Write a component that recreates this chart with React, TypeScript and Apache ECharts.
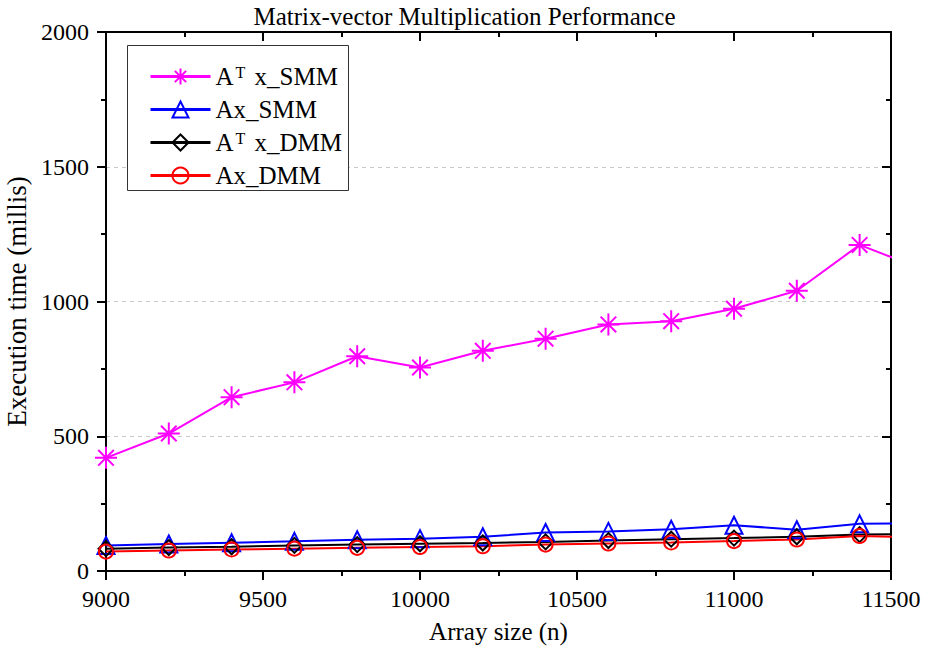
import React, { useEffect, useRef } from "react";
import * as echarts from "echarts";

const sizes = [9000, 9200, 9400, 9600, 9800, 10000, 10200, 10400, 10600, 10800, 11000, 11200, 11400, 11600];
const atxSMM = [420, 510, 645, 700, 797, 755, 817, 862, 915, 927, 973, 1040, 1210, 1120];
const axSMM = [95, 100, 105, 110, 116, 120, 127, 143, 147, 155, 170, 153, 175, 178];
const atxDMM = [83, 87, 90, 95, 98, 101, 104, 108, 113, 118, 122, 127, 135, 137];
const axDMM = [72, 76, 80, 83, 86, 89, 92, 98, 102, 106, 111, 117, 130, 125];
const seriesNames = ["ATx_SMM", "Ax_SMM", "ATx_DMM", "Ax_DMM"];
const legendLabels: Record<string, string> = {
  ATx_SMM: "{b|A}{sup|T}{b| x_SMM}",
  Ax_SMM: "{b|Ax_SMM}",
  ATx_DMM: "{b|A}{sup|T}{b| x_DMM}",
  Ax_DMM: "{b|Ax_DMM}",
};

const FONT = "Liberation Serif";
const STAR = "path://M0,-10L0,10M-10,0L10,0M-7.07,-7.07L7.07,7.07M-7.07,7.07L7.07,-7.07";

export default function App() {
  const ref = useRef<HTMLDivElement>(null);
  useEffect(() => {
    if (!ref.current) return;
    const chart = echarts.init(ref.current, null, { renderer: "svg" });
    const pair = (vals: number[]) => sizes.map((s, i) => [s, vals[i]]);
    const mk = (name: string, vals: number[], color: string, symbol: string, size: number, fill: string) => ({
      name,
      type: "line",
      data: pair(vals),
      symbol,
      symbolSize: size,
      clip: true,
      lineStyle: { color, width: 2 },
      itemStyle: { color: fill, borderColor: color, borderWidth: 2 },
      emphasis: { disabled: true },
    });
    const plain = (v: number) => String(v);
    const baseAxisLine = { show: true, onZero: false, lineStyle: { color: "#000", width: 2 } };
    const option: any = {
      animation: false,
      backgroundColor: "#fff",
      textStyle: { fontFamily: FONT },
      title: {
        text: "Matrix-vector Multiplication Performance",
        left: "center",
        top: 4,
        padding: 0,
        textStyle: { fontFamily: FONT, fontSize: 25, fontWeight: "normal", color: "#000" },
      },
      grid: { left: 106, right: 38, top: 32, bottom: 76, outerBoundsMode: "none", containLabel: false },
      graphic: [
        {
          type: "rect",
          z: 3,
          shape: { x: 127.5, y: 45.5, width: 221, height: 145 },
          style: { fill: "#fff", stroke: "#333", lineWidth: 1 },
        },
      ],
      legend: {
        z: 5,
        left: 149,
        top: 64,
        padding: 0,
        orient: "vertical",
        itemWidth: 60,
        itemHeight: 20,
        itemGap: 8,
        data: seriesNames,
        lineStyle: { width: 3 },
        formatter: (n: string) => legendLabels[n],
        textStyle: {
          fontFamily: FONT,
          fontSize: 25,
          color: "#000",
          lineHeight: 25,
          rich: {
            b: { fontFamily: FONT, fontSize: 25, color: "#000", lineHeight: 25 },
            sup: { fontFamily: FONT, fontSize: 16, color: "#000", lineHeight: 25, verticalAlign: "top", padding: [0, 3, 0, 2] },
          },
        },
      },
      xAxis: [
        {
          type: "value",
          min: 9000,
          max: 11500,
          interval: 500,
          name: "Array size (n)",
          nameLocation: "middle",
          nameGap: 48,
          nameTextStyle: { fontFamily: FONT, fontSize: 25, color: "#000" },
          axisLine: baseAxisLine,
          axisTick: { show: true, length: 9, lineStyle: { color: "#000", width: 2 } },
          minorTick: { show: true, splitNumber: 2, length: 5, lineStyle: { color: "#000", width: 2 } },
          axisLabel: { fontFamily: FONT, fontSize: 24, color: "#000", margin: 16, formatter: plain },
          splitLine: { show: false },
        },
        {
          type: "value",
          position: "top",
          min: 9000,
          max: 11500,
          interval: 500,
          axisLine: baseAxisLine,
          axisTick: { show: true, inside: true, length: 9, lineStyle: { color: "#000", width: 2 } },
          minorTick: { show: true, splitNumber: 2, length: 5, lineStyle: { color: "#000", width: 2 } },
          axisLabel: { show: false },
          splitLine: { show: false },
        },
      ],
      yAxis: [
        {
          type: "value",
          min: 0,
          max: 2000,
          interval: 500,
          name: "Execution time (millis)",
          nameLocation: "middle",
          nameGap: 72,
          nameTextStyle: { fontFamily: FONT, fontSize: 27, color: "#000" },
          axisLine: baseAxisLine,
          axisTick: { show: true, length: 9, lineStyle: { color: "#000", width: 2 } },
          minorTick: { show: true, splitNumber: 2, length: 5, lineStyle: { color: "#000", width: 2 } },
          axisLabel: { fontFamily: FONT, fontSize: 24, color: "#000", margin: 17, formatter: plain },
          splitLine: { show: true, lineStyle: { color: "#c8c8c8", width: 1, type: [4, 4] } },
        },
        {
          type: "value",
          position: "right",
          min: 0,
          max: 2000,
          interval: 500,
          axisLine: baseAxisLine,
          axisTick: { show: true, inside: true, length: 9, lineStyle: { color: "#000", width: 2 } },
          minorTick: { show: true, splitNumber: 2, length: 5, lineStyle: { color: "#000", width: 2 } },
          axisLabel: { show: false },
          splitLine: { show: false },
        },
      ],
      series: [
        mk("ATx_SMM", atxSMM, "#ff00ff", STAR, 22, "#ff00ff"),
        mk("Ax_SMM", axSMM, "#0000ff", "triangle", 17, "rgba(255,255,255,0)"),
        mk("ATx_DMM", atxDMM, "#000000", "diamond", 15, "rgba(255,255,255,0)"),
        mk("Ax_DMM", axDMM, "#ff0000", "circle", 14, "rgba(255,255,255,0)"),
      ],
    };
    chart.setOption(option);
    return () => chart.dispose();
  }, []);
  return <div ref={ref} style={{ width: 929, height: 647, position: "absolute", left: 0, top: 0 }} />;
}
